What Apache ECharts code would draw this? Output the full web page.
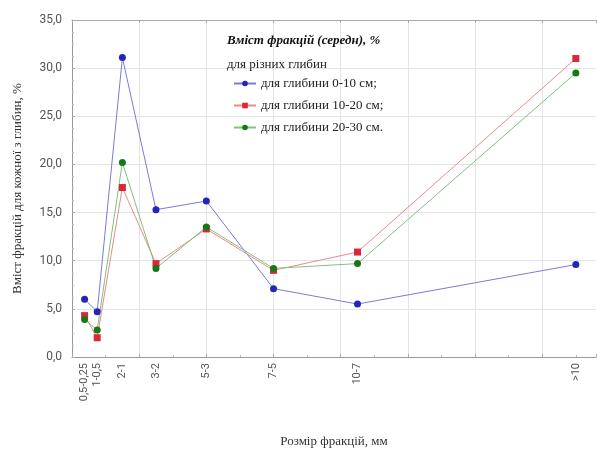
<!DOCTYPE html>
<html>
<head>
<meta charset="utf-8">
<script src="https://cdn.jsdelivr.net/npm/echarts@6/dist/echarts.min.js"></script>
<style>
  html, body { margin: 0; padding: 0; background: #fff; }
  #chart { width: 597px; height: 453px; }
</style>
</head>
<body>
<div id="chart"></div>
<script>
// фракції та їх положення на осі (середина інтервалу, мм)
var fractions = ['0,5-0,25', '1-0,5', '2-1', '3-2', '5-3', '7-5', '10-7', '>10'];
var xPos = [0.375, 0.75, 1.5, 2.5, 4, 6, 8.5, 15];

var depth0_10 = [6.0, 4.7, 31.1, 15.3, 16.2, 7.1, 5.5, 9.6];
var depth10_20 = [4.3, 2.0, 17.6, 9.7, 13.3, 9.0, 10.9, 31.0];
var depth20_30 = [3.9, 2.8, 20.2, 9.2, 13.5, 9.2, 9.7, 29.5];

var seriesNames = ['для глибини 0-10 см;', 'для глибини 10-20 см;', 'для глибини 20-30 см.'];
var yTicks = [0, 5, 10, 15, 20, 25, 30, 35];

var serif = '"Liberation Serif", "DejaVu Serif", serif';
var gridColor = '#e4e4e4';

var pairs = function (vals) {
    return vals.map(function (v, i) { return [xPos[i], v]; });
};

var chart = echarts.init(document.getElementById('chart'));

var mkSeries = function (name, data, symbol, lineColor, dotColor) {
    return {
        name: name,
        type: 'line',
        data: pairs(data),
        symbol: symbol,
        symbolSize: 7,
        showSymbol: true,
        lineStyle: { width: 1, color: lineColor },
        itemStyle: { color: dotColor },
        z: 3
    };
};

var option = {
    animation: false,
    title: [
        {
            text: 'Вміст фракцій (середн), %',
            left: 222,
            top: 29,
            textStyle: { fontFamily: serif, fontSize: 13, fontWeight: 'bold', fontStyle: 'italic', color: '#111' }
        },
        {
            text: 'для різних глибин',
            left: 222,
            top: 53,
            textStyle: { fontFamily: serif, fontSize: 13, fontWeight: 'normal', color: '#222' }
        }
    ],
    legend: {
        data: seriesNames,
        orient: 'vertical',
        left: 228,
        top: 72,
        itemGap: 9,
        itemWidth: 22,
        itemHeight: 7,
        textStyle: { fontFamily: serif, fontSize: 13, color: '#222' }
    },
    grid: {
        left: 72,
        right: 1,
        top: 20,
        bottom: 95,
        containLabel: false
    },
    xAxis: [
        {
            type: 'value',
            min: 0,
            max: 15.6,
            interval: 2,
            name: 'Розмір фракцій, мм',
            nameLocation: 'middle',
            nameGap: 78,
            nameTextStyle: { fontFamily: serif, fontSize: 13, color: '#333' },
            axisLine: { show: true, lineStyle: { color: '#999' } },
            axisTick: { show: true, length: 3, inside: true, lineStyle: { color: '#aaa' } },
            minorTick: { show: true, splitNumber: 2, length: 2, lineStyle: { color: '#bbb' } },
            axisLabel: {
                customValues: xPos,
                rotate: 90,
                fontFamily: 'Roboto, sans-serif',
                fontSize: 11,
                color: '#555',
                margin: 6,
                formatter: function (v) {
                    var i = xPos.indexOf(v);
                    return i >= 0 ? fractions[i] : '';
                }
            },
            splitLine: { show: true, showMaxLine: false, lineStyle: { color: gridColor } }
        },
        {
            type: 'value',
            position: 'top',
            min: 0,
            max: 15.6,
            interval: 2,
            axisLine: { show: true, lineStyle: { color: '#aaa' } },
            axisTick: { show: true, length: 3, inside: true, lineStyle: { color: '#aaa' } },
            axisLabel: { show: false },
            splitLine: { show: false }
        }
    ],
    yAxis: {
        type: 'value',
        min: yTicks[0],
        max: yTicks[yTicks.length - 1],
        interval: 5,
        name: 'Вміст фракцій для кожної з глибин, %',
        nameLocation: 'middle',
        nameGap: 48,
        nameTextStyle: { fontFamily: serif, fontSize: 13, color: '#333' },
        axisLine: { show: true, lineStyle: { color: '#999' } },
        axisTick: { show: true, length: 3, inside: true, lineStyle: { color: '#aaa' } },
        minorTick: { show: true, splitNumber: 4, length: 2, lineStyle: { color: '#bbb' } },
        axisLabel: {
            fontFamily: 'Roboto, sans-serif',
            fontSize: 12,
            color: '#555',
            margin: 10,
            formatter: function (v) { return v.toFixed(1).replace('.', ','); }
        },
        splitLine: { show: true, lineStyle: { color: gridColor } }
    },
    series: [
        mkSeries(seriesNames[0], depth0_10, 'circle', '#7a7ad8', '#2424b8'),
        mkSeries(seriesNames[1], depth10_20, 'rect', '#e88a8a', '#d8283a'),
        mkSeries(seriesNames[2], depth20_30, 'circle', '#80c080', '#187818')
    ]
};
chart.setOption(option);
</script>
</body>
</html>
